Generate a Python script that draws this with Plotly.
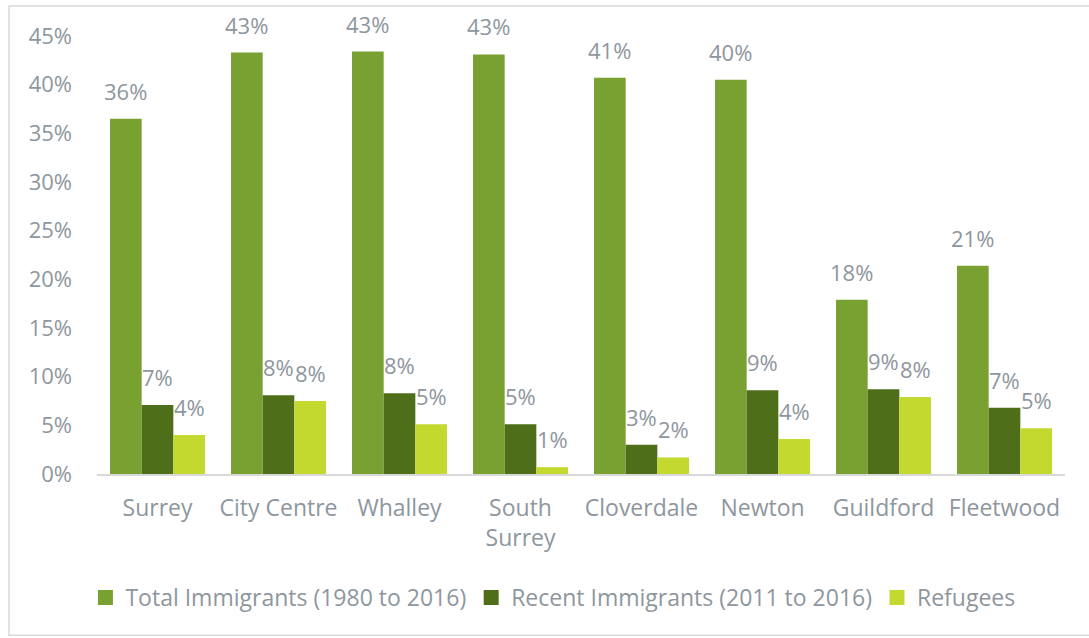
import plotly.graph_objects as go

# Share of population by community (fractions)
communities = ["Surrey", "City Centre", "Whalley", "South<br>Surrey",
               "Cloverdale", "Newton", "Guildford", "Fleetwood"]
total_immigrants = [0.365, 0.433, 0.434, 0.431, 0.407, 0.405, 0.179, 0.214]
recent_immigrants = [0.071, 0.081, 0.083, 0.051, 0.030, 0.086, 0.087, 0.068]
refugees = [0.040, 0.075, 0.051, 0.007, 0.017, 0.036, 0.079, 0.047]

series_names = ["Total Immigrants (1980 to 2016)",
                "Recent Immigrants (2011 to 2016)",
                "Refugees"]
series_values = [total_immigrants, recent_immigrants, refugees]
series_colors = ["#78A132", "#4E6E1A", "#C3D92F"]

y_ticks = [0, 0.05, 0.10, 0.15, 0.20, 0.25, 0.30, 0.35, 0.40, 0.45]

FONT = "'Open Sans', Lato, sans-serif"
TEXT_COLOR = "#8E969E"
NUM_SIZE = 22
WORD_SIZE = 23

fig = go.Figure()

for name, vals, color in zip(series_names, series_values, series_colors):
    fig.add_trace(go.Bar(
        x=communities, y=vals, name=name,
        marker=dict(color=color, line=dict(width=0)),
        showlegend=False,
    ))
    # legend entry with a square swatch
    fig.add_trace(go.Scatter(
        x=[None], y=[None], mode="markers", name=name,
        marker=dict(symbol="square", size=15, color=color),
    ))

# Value labels above each bar, offset to the bar's slot in the group
bar_px = 31.7
for i, vals in enumerate(series_values):
    for cat, v in zip(communities, vals):
        fig.add_annotation(
            x=cat, y=v, text=f"{v:.0%}", showarrow=False,
            xshift=(i - 1) * bar_px, yshift=11, yanchor="bottom",
            font=dict(family=FONT, size=NUM_SIZE, color=TEXT_COLOR),
        )

# Outer chart border
fig.add_shape(
    type="rect", xref="paper", yref="paper",
    x0=-0.0909, x1=1.031, y0=-0.3683, y1=1.0684,
    line=dict(color="#D9D9D9", width=1.5), fillcolor="rgba(0,0,0,0)",
    layer="below",
)

fig.update_layout(
    width=1089, height=638,
    margin=dict(l=97, r=24, t=36, b=164),
    paper_bgcolor="white", plot_bgcolor="white",
    barmode="group", bargap=0.215, bargroupgap=0,
    font=dict(family=FONT, size=WORD_SIZE, color=TEXT_COLOR),
    showlegend=True,
    legend=dict(
        orientation="h", x=0.471, xanchor="center", y=-0.282, yanchor="middle",
        font=dict(family=FONT, size=WORD_SIZE, color=TEXT_COLOR),
        itemsizing="trace", traceorder="normal",
    ),
    xaxis=dict(
        showline=True, linecolor="#D9D9D9", linewidth=1.5,
        showgrid=False, ticks="", ticklabelstandoff=13,
        tickfont=dict(family=FONT, size=WORD_SIZE, color=TEXT_COLOR),
    ),
    yaxis=dict(
        range=[0, 0.45], tickvals=y_ticks, tickformat=".0%",
        showgrid=False, zeroline=False, showline=False, ticks="",
        ticklabelstandoff=24,
        tickfont=dict(family=FONT, size=NUM_SIZE, color=TEXT_COLOR),
    ),
)

fig.write_html("out.html")
